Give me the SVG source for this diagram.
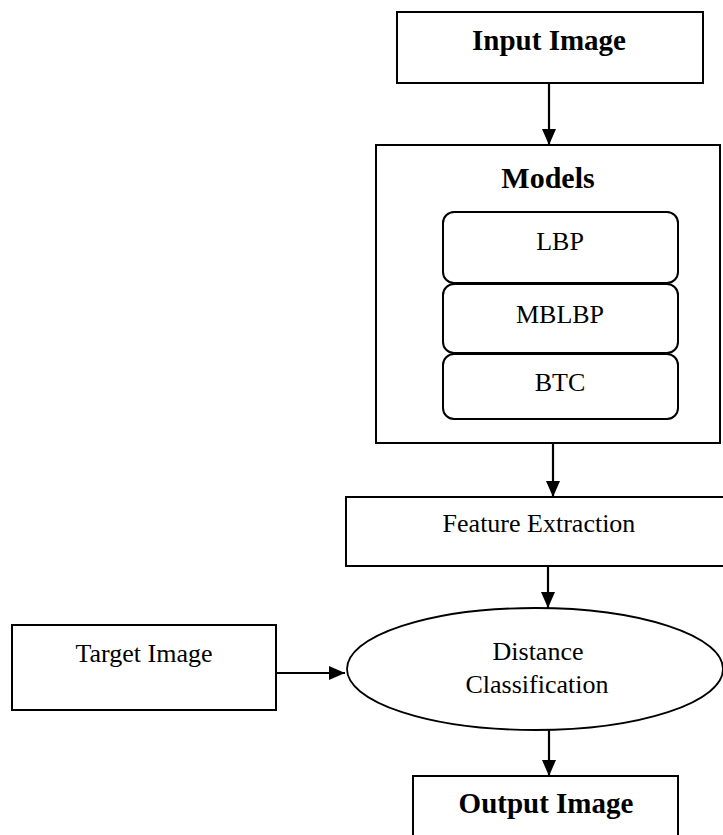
<svg xmlns="http://www.w3.org/2000/svg" width="723" height="835" viewBox="0 0 723 835">
<defs>
<marker id="ah" markerWidth="16" markerHeight="14" refX="16" refY="7" orient="auto" markerUnits="userSpaceOnUse" viewBox="0 0 16 14">
<path d="M0,0 L16,7 L0,14 Z" fill="#000"/>
</marker>
<style>
.box{fill:#fff;stroke:#000;stroke-width:2}
.rbox{fill:#fff;stroke:#000;stroke-width:2}
.conn{stroke:#000;stroke-width:2.2;fill:none;marker-end:url(#ah)}
.t{font-family:"Liberation Serif","Times New Roman",serif;font-size:26px;fill:#000;text-anchor:middle}
.b{font-family:"Liberation Serif","Times New Roman",serif;font-size:29px;font-weight:bold;fill:#000;text-anchor:middle}
</style>
</defs>
<rect width="723" height="835" fill="#fff"/>
<g id="input-image">
<rect class="box" x="397" y="12" width="306" height="71"/>
<text class="b" x="549" y="50">Input Image</text>
</g>
<g id="models">
<rect class="box" x="376" y="145" width="344" height="298"/>
<text class="b" x="548" y="188" style="font-size:30px">Models</text>
</g>
<g id="lbp">
<rect class="rbox" x="443" y="212" width="235" height="71" rx="11"/>
<text class="t" x="560" y="250">LBP</text>
</g>
<g id="mblbp">
<rect class="rbox" x="443" y="284" width="235" height="69" rx="11"/>
<text class="t" x="560" y="323">MBLBP</text>
</g>
<g id="btc">
<rect class="rbox" x="443" y="354" width="235" height="65" rx="11"/>
<text class="t" x="560" y="391">BTC</text>
</g>
<g id="feature-extraction">
<rect class="box" x="346" y="497" width="390" height="69"/>
<text class="t" x="539" y="532">Feature Extraction</text>
</g>
<g id="target-image">
<rect class="box" x="12" y="625" width="264" height="85"/>
<text class="t" x="144" y="662">Target Image</text>
</g>
<g id="distance-classification">
<ellipse cx="535" cy="669" rx="188" ry="61" fill="#fff" stroke="#000" stroke-width="1.8"/>
<text class="t" x="538" y="660">Distance</text>
<text class="t" x="537" y="693">Classification</text>
</g>
<g id="output-image">
<rect class="box" x="413" y="776" width="265" height="80"/>
<text class="b" x="546" y="813">Output Image</text>
</g>
<g id="connectors">
<line class="conn" x1="549" y1="83" x2="549" y2="145"/>
<line class="conn" x1="553" y1="443" x2="553" y2="497"/>
<line class="conn" x1="548" y1="566" x2="548" y2="608"/>
<line class="conn" x1="276" y1="673" x2="345" y2="673"/>
<line class="conn" x1="549" y1="730" x2="549" y2="776"/>
</g>
</svg>
